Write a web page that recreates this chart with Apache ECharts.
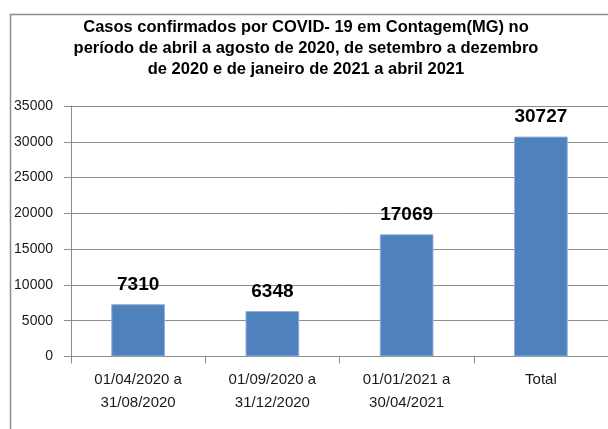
<!DOCTYPE html>
<html>
<head>
<meta charset="utf-8">
<script src="https://cdn.jsdelivr.net/npm/echarts@6/dist/echarts.min.js"></script>
<style>
  html,body{margin:0;padding:0;background:#fff;}
  #chart{width:608px;height:429px;}
</style>
</head>
<body>
<div id="chart"></div>
<script>
// dados
const TITULO='Casos confirmados por COVID- 19 em Contagem(MG) no\nperíodo de abril a agosto de 2020, de setembro a dezembro\nde 2020 e de janeiro de 2021 a abril 2021';
const categorias=['01/04/2020 a\n31/08/2020','01/09/2020 a\n31/12/2020','01/01/2021 a\n30/04/2021','Total'];
const casos=[7310,6348,17069,30727];
const Y_MAX=35000, Y_PASSO=5000;

const CHART=echarts.init(document.getElementById('chart'),null,{renderer:'canvas'});
CHART.setOption({
  animation:false,
  backgroundColor:'#fff',
  // moldura do gráfico (cortada à direita e embaixo, como no original)
  graphic:[{type:'rect',left:8,top:12,shape:{width:800,height:600},
    style:{fill:'none',stroke:'#8c8c8c',lineWidth:1.5},silent:true,z:-1}],
  title:{text:TITULO,left:306,top:17,textAlign:'center',padding:0,
    textStyle:{fontFamily:'Liberation Sans',fontWeight:'bold',fontSize:16.5,
      lineHeight:21,color:'#000'}},
  grid:{left:71,top:106,right:-2,bottom:72.5},
  xAxis:{type:'category',data:categorias,
    axisLine:{lineStyle:{color:'#8c8c8c',width:1}},
    axisTick:{show:true,length:7,lineStyle:{color:'#8c8c8c'}},
    axisLabel:{margin:12,fontFamily:'Liberation Sans',fontSize:15,lineHeight:23,color:'#1a1a1a',interval:0}},
  yAxis:{type:'value',min:0,max:Y_MAX,interval:Y_PASSO,
    axisLine:{show:true,lineStyle:{color:'#8c8c8c'}},
    axisTick:{show:true,length:7,lineStyle:{color:'#8c8c8c'}},
    splitLine:{lineStyle:{color:'#8c8c8c',width:1}},
    axisLabel:{margin:18,fontFamily:'Liberation Sans',fontSize:14,color:'#1a1a1a',
      formatter:v=>String(v)}},   // sem separador de milhar
  series:[{type:'bar',data:casos,barWidth:'40%',
    itemStyle:{color:'#4f81bd',borderColor:'#8fb0da',borderWidth:1},
    label:{show:true,position:'top',distance:10,fontFamily:'Liberation Sans',
      fontWeight:'bold',fontSize:19,color:'#000'}}]
});
</script>
</body>
</html>
